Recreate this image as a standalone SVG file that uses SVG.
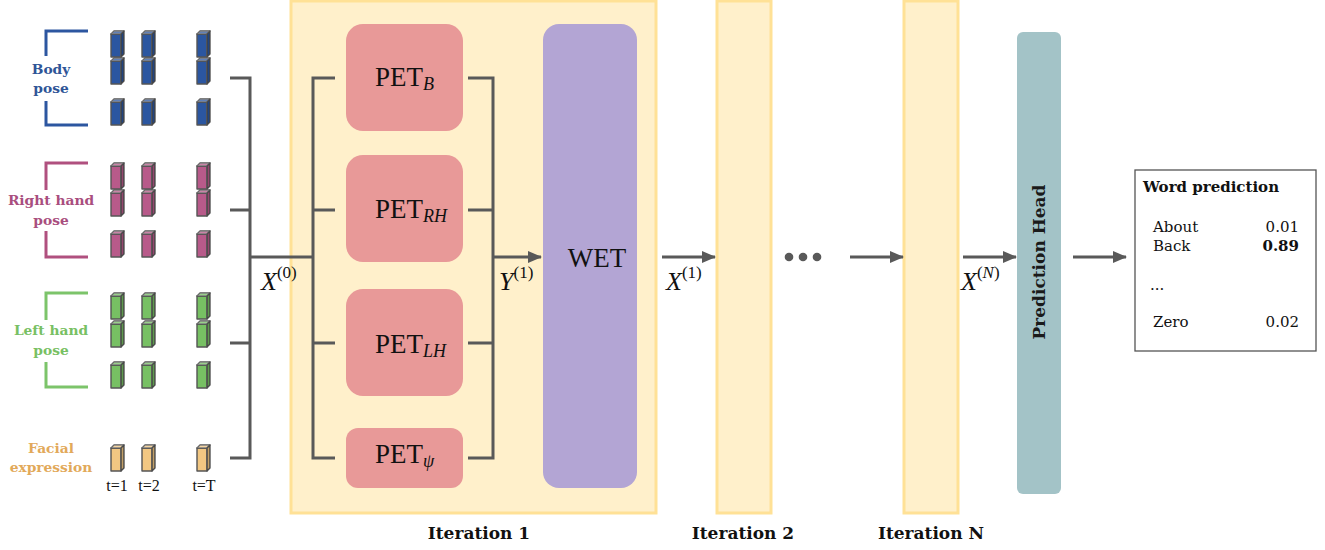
<svg xmlns="http://www.w3.org/2000/svg" xmlns:xlink="http://www.w3.org/1999/xlink" width="1325" height="550" viewBox="0 0 1325 550">
<defs>
<style>
.lbl{font-family:"DejaVu Serif","Liberation Serif",serif;font-weight:bold;font-size:13.8px;text-anchor:middle}
.math{font-family:"Liberation Serif","DejaVu Serif",serif;fill:#111}
.it{font-style:italic}
.conn{fill:none;stroke:#595959;stroke-width:3}
.iter{fill:#fff0cb;stroke:#ffe196;stroke-width:3}
.pet{fill:#e89998}
.ttl{font-family:"DejaVu Serif","Liberation Serif",serif;font-weight:bold;font-size:17px;text-anchor:middle;fill:#111}
.wp{font-family:"DejaVu Serif","Liberation Serif",serif;font-size:15px;fill:#111}
.cube path{stroke:#555;stroke-width:1.4;stroke-linejoin:round}
</style>
<g id="cube" class="cube">
<path d="M0,3 H10 V26 H0 Z"/>
<path d="M0,3 L3,0 H13 L10,3 Z"/>
<path d="M0,3 L3,0 H13 L10,3 Z" style="fill:#fff;fill-opacity:0.25;stroke:none"/>
<path d="M10,3 L13,0 V23 L10,26 Z"/>
<path d="M10,3 L13,0 V23 L10,26 Z" style="fill:#000;fill-opacity:0.2;stroke:none"/>
</g>
<marker id="arr" markerUnits="userSpaceOnUse" markerWidth="14" markerHeight="14" viewBox="0 0 14 14" refX="13" refY="7" orient="auto">
<path d="M0,1 L14,7 L0,13 Z" fill="#595959"/>
</marker>
</defs>

<!-- Body pose -->
<g id="body">
<path d="M88,31 H46 V56 M46,101 V125 H88" fill="none" stroke="#2c56a0" stroke-width="3"/>
<text class="lbl" x="51" y="74" fill="#2f5597">Body</text>
<text class="lbl" x="51" y="93" fill="#2f5597">pose</text>
<g fill="#2b56a0">
<use xlink:href="#cube" x="111" y="31"/><use xlink:href="#cube" x="142" y="31"/><use xlink:href="#cube" x="197" y="31"/>
<use xlink:href="#cube" x="111" y="58"/><use xlink:href="#cube" x="142" y="58"/><use xlink:href="#cube" x="197" y="58"/>
<use xlink:href="#cube" x="111" y="99"/><use xlink:href="#cube" x="142" y="99"/><use xlink:href="#cube" x="197" y="99"/>
</g>
</g>

<!-- Right hand pose -->
<g id="righthand">
<path d="M88,163 H46 V190 M46,231 V257 H88" fill="none" stroke="#b0507f" stroke-width="3"/>
<text class="lbl" x="51" y="205" fill="#a94e7e">Right hand</text>
<text class="lbl" x="51" y="225" fill="#a94e7e">pose</text>
<g fill="#b85a8a">
<use xlink:href="#cube" x="111" y="163"/><use xlink:href="#cube" x="142" y="163"/><use xlink:href="#cube" x="197" y="163"/>
<use xlink:href="#cube" x="111" y="190"/><use xlink:href="#cube" x="142" y="190"/><use xlink:href="#cube" x="197" y="190"/>
<use xlink:href="#cube" x="111" y="231"/><use xlink:href="#cube" x="142" y="231"/><use xlink:href="#cube" x="197" y="231"/>
</g>
</g>

<!-- Left hand pose -->
<g id="lefthand">
<path d="M88,293 H46 V320 M46,362 V387 H88" fill="none" stroke="#7cc46a" stroke-width="3"/>
<text class="lbl" x="51" y="335" fill="#78c063">Left hand</text>
<text class="lbl" x="51" y="355" fill="#78c063">pose</text>
<g fill="#77c063">
<use xlink:href="#cube" x="111" y="293"/><use xlink:href="#cube" x="142" y="293"/><use xlink:href="#cube" x="197" y="293"/>
<use xlink:href="#cube" x="111" y="321"/><use xlink:href="#cube" x="142" y="321"/><use xlink:href="#cube" x="197" y="321"/>
<use xlink:href="#cube" x="111" y="362"/><use xlink:href="#cube" x="142" y="362"/><use xlink:href="#cube" x="197" y="362"/>
</g>
</g>

<!-- Facial expression -->
<g id="facial">
<text class="lbl" x="51" y="453" fill="#e2a95a">Facial</text>
<text class="lbl" x="51" y="472" fill="#e2a95a">expression</text>
<g fill="#f2c782">
<use xlink:href="#cube" x="111" y="445"/><use xlink:href="#cube" x="142" y="445"/><use xlink:href="#cube" x="197" y="445"/>
</g>
<g font-family="Liberation Serif, DejaVu Serif, serif" font-size="16" text-anchor="middle" fill="#111">
<text x="117" y="491">t=1</text>
<text x="149" y="491">t=2</text>
<text x="204" y="491">t=T</text>
</g>
</g>

<!-- Iteration boxes -->
<g id="iteration1">
<rect class="iter" x="291" y="1" width="365" height="512"/>
<text class="ttl" x="479" y="539">Iteration 1</text>
</g>
<g id="iteration2">
<rect class="iter" x="717" y="1" width="54" height="512"/>
<text class="ttl" x="743" y="539">Iteration 2</text>
</g>
<g id="iterationN">
<rect class="iter" x="904" y="1" width="54" height="512"/>
<text class="ttl" x="931" y="539">Iteration N</text>
</g>

<!-- PET nodes -->
<g id="pet_b">
<rect class="pet" x="346" y="24" width="117" height="107" rx="17"/>
<text class="math" x="375" y="86" font-size="27">PET<tspan class="it" font-size="18" dy="4">B</tspan></text>
</g>
<g id="pet_rh">
<rect class="pet" x="346" y="155" width="117" height="107" rx="17"/>
<text class="math" x="375" y="218" font-size="27">PET<tspan class="it" font-size="18" dy="4">RH</tspan></text>
</g>
<g id="pet_lh">
<rect class="pet" x="346" y="289" width="117" height="107" rx="17"/>
<text class="math" x="375" y="353" font-size="27">PET<tspan class="it" font-size="18" dy="4">LH</tspan></text>
</g>
<g id="pet_psi">
<rect class="pet" x="346" y="428" width="117" height="60" rx="12"/>
<text class="math" x="375" y="463" font-size="27">PET<tspan class="it" font-size="18" dy="4">ψ</tspan></text>
</g>

<!-- WET -->
<g id="wet">
<rect x="543" y="24" width="94" height="464" rx="16" fill="#b3a5d4"/>
<text class="math" x="597" y="267" font-size="27" text-anchor="middle">WET</text>
</g>

<!-- Prediction head -->
<g id="prediction_head">
<rect x="1017" y="32" width="44" height="462" rx="6" fill="#a3c3c7"/>
<text transform="translate(1045,262) rotate(-90)" font-family="DejaVu Serif, Liberation Serif, serif" font-weight="bold" font-size="17" text-anchor="middle" fill="#1a1a1a">Prediction Head</text>
</g>

<!-- Word prediction -->
<g id="word_prediction">
<rect x="1135" y="170" width="181" height="181" fill="#fff" stroke="#555" stroke-width="1.3"/>
<text class="wp" x="1143" y="192" font-weight="bold" font-size="17.5">Word prediction</text>
<text class="wp" x="1153" y="232">About</text>
<text class="wp" x="1299" y="232" text-anchor="end">0.01</text>
<text class="wp" x="1153" y="251">Back</text>
<text class="wp" x="1299" y="251" text-anchor="end" font-weight="bold">0.89</text>
<text class="wp" x="1150" y="290">...</text>
<text class="wp" x="1153" y="327">Zero</text>
<text class="wp" x="1299" y="327" text-anchor="end">0.02</text>
</g>

<!-- Connectors -->
<g id="connectors">
<path class="conn" d="M230,78 H250 V458 H230 M230,210 H250 M230,343 H250 M250,257 H313"/>
<path class="conn" d="M335,78 H313 V458 H335 M313,210 H335 M313,343 H335"/>
<path class="conn" d="M468,78 H493 V458 H468 M468,210 H493 M468,343 H493"/>
<path class="conn" d="M493,257 H541" marker-end="url(#arr)"/>
<path class="conn" d="M662,257 H715" marker-end="url(#arr)"/>
<path class="conn" d="M850,257 H903" marker-end="url(#arr)"/>
<path class="conn" d="M963,257 H1016" marker-end="url(#arr)"/>
<path class="conn" d="M1073,257 H1126" marker-end="url(#arr)"/>
<g fill="#595959">
<circle cx="789" cy="257" r="4.3"/><circle cx="803" cy="257" r="4.3"/><circle cx="817" cy="257" r="4.3"/>
</g>
<text class="math" x="261" y="290" font-size="26"><tspan class="it">X</tspan><tspan font-size="17" dy="-12">(0)</tspan></text>
<text class="math" x="499" y="290" font-size="26"><tspan class="it">Y</tspan><tspan font-size="17" dy="-12">(1)</tspan></text>
<text class="math" x="666" y="290" font-size="26"><tspan class="it">X</tspan><tspan font-size="17" dy="-12">(1)</tspan></text>
<text class="math" x="961" y="290" font-size="26"><tspan class="it">X</tspan><tspan font-size="17" dy="-12">(<tspan class="it">N</tspan>)</tspan></text>
</g>
</svg>
